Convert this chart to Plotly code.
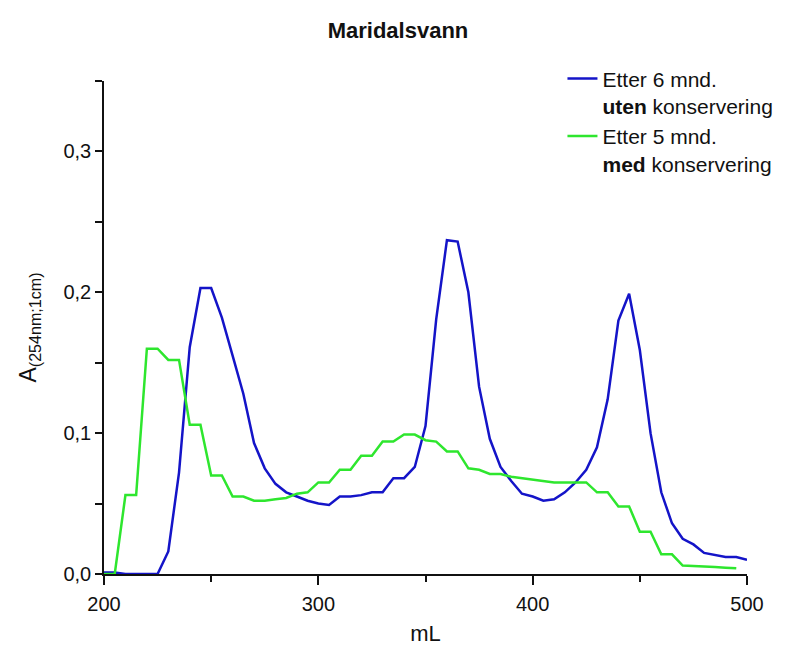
import plotly.graph_objects as go

# Data (absorbance vs. elution volume)
ml_blue = [200, 205, 210, 215, 220, 225, 230, 235, 240, 245, 250, 255, 260, 265, 270, 275,
           280, 285, 290, 295, 300, 305, 310, 315, 320, 325, 330, 335, 340, 345, 350, 355,
           360, 365, 370, 375, 380, 385, 390, 395, 400, 405, 410, 415, 420, 425, 430, 435,
           440, 445, 450, 455, 460, 465, 470, 475, 480, 485, 490, 495, 500]
a_uten = [0.001, 0.001, 0.0, 0.0, 0.0, 0.0, 0.016, 0.072, 0.161, 0.203, 0.203, 0.182, 0.155,
          0.128, 0.093, 0.075, 0.064, 0.058, 0.055, 0.052, 0.050, 0.049, 0.055, 0.055, 0.056,
          0.058, 0.058, 0.068, 0.068, 0.076, 0.105, 0.181, 0.237, 0.236, 0.200, 0.133, 0.096,
          0.076, 0.066, 0.057, 0.055, 0.052, 0.053, 0.058, 0.065, 0.074, 0.090, 0.124, 0.180,
          0.199, 0.159, 0.100, 0.058, 0.036, 0.025, 0.021, 0.015, 0.0135, 0.012, 0.012, 0.010]

ml_green = [200, 205, 210, 215, 220, 225, 230, 235, 240, 245, 250, 255, 260, 265, 270, 275,
            280, 285, 290, 295, 300, 305, 310, 315, 320, 325, 330, 335, 340, 345, 350, 355,
            360, 365, 370, 375, 380, 385, 390, 395, 400, 405, 410, 415, 420, 425, 430, 435,
            440, 445, 450, 455, 460, 465, 470, 475, 480, 485, 490, 495]
a_med = [0.0, 0.0, 0.056, 0.056, 0.160, 0.160, 0.152, 0.152, 0.106, 0.106, 0.070, 0.070, 0.055,
         0.055, 0.052, 0.052, 0.053, 0.054, 0.057, 0.058, 0.065, 0.065, 0.074, 0.074, 0.084,
         0.084, 0.094, 0.094, 0.099, 0.099, 0.095, 0.094, 0.087, 0.087, 0.075, 0.074, 0.071,
         0.071, 0.069, 0.068, 0.067, 0.066, 0.065, 0.065, 0.065, 0.065, 0.058, 0.058, 0.048,
         0.048, 0.030, 0.030, 0.014, 0.014, 0.006, 0.0058, 0.0052, 0.005, 0.0045, 0.004]

names = ["Etter 6 mnd.<br><b>uten</b> konservering", "Etter 5 mnd.<br><b>med</b> konservering"]
colors = ["#1414c8", "#2ee62e"]

y_tickvals = [0.0, 0.1, 0.2, 0.3]
y_ticktext = ["0,0", "0,1", "0,2", "0,3"]
x_tickvals = [200, 300, 400, 500]
x_ticktext = ["200", "300", "400", "500"]

FONT = "Arial, Liberation Sans, sans-serif"

fig = go.Figure()
fig.add_trace(go.Scatter(x=ml_blue, y=a_uten, mode="lines", name=names[0],
                         line=dict(color=colors[0], width=2.5)))
fig.add_trace(go.Scatter(x=ml_green, y=a_med, mode="lines", name=names[1],
                         line=dict(color=colors[1], width=2.5)))

fig.update_layout(
    width=796, height=646,
    margin=dict(l=104, r=49, t=81, b=72, autoexpand=False),
    paper_bgcolor="white", plot_bgcolor="white",
    font=dict(family=FONT, color="#111111"),
    title=dict(text="<b>Maridalsvann</b>", x=0.5, xref="container", xanchor="center",
               y=0.953, yref="container", yanchor="middle",
               font=dict(size=22, family=FONT, color="#111111")),
    showlegend=True,
    legend=dict(x=0.713, xanchor="left", y=1.046, yanchor="top",
                font=dict(size=21, family=FONT, color="#111111"),
                valign="top", bgcolor="rgba(0,0,0,0)", borderwidth=0),
    xaxis=dict(range=[200, 500], showline=True, linecolor="#111111", linewidth=1.5,
               automargin=False,
               showgrid=False, zeroline=False, ticks="outside", ticklen=9, tickwidth=1.5,
               tickcolor="#111111", tickvals=x_tickvals, ticktext=x_ticktext,
               ticklabelstandoff=2,
               tickfont=dict(size=20, family=FONT, color="#111111"),
               minor=dict(dtick=50, tick0=0, ticks="outside", ticklen=6, tickwidth=1.5,
                          tickcolor="#111111", showgrid=False),
               title=dict(text="mL", font=dict(size=22, family=FONT, color="#111111"),
                          standoff=19)),
    yaxis=dict(range=[0, 0.35], showline=True, linecolor="#111111", linewidth=1.5,
               automargin=False,
               showgrid=False, zeroline=False, ticks="outside", ticklen=7, tickwidth=1.5,
               tickcolor="#111111", tickvals=y_tickvals, ticktext=y_ticktext,
               tickfont=dict(size=20, family=FONT, color="#111111"),
               minor=dict(dtick=0.05, tick0=0, ticks="outside", ticklen=7, tickwidth=1.5,
                          tickcolor="#111111", showgrid=False),
               title=dict(text="A<sub>(254nm;1cm)</sub>",
                          font=dict(size=23, family=FONT, color="#111111"),
                          standoff=20)),
)

fig.write_html("out.html")
